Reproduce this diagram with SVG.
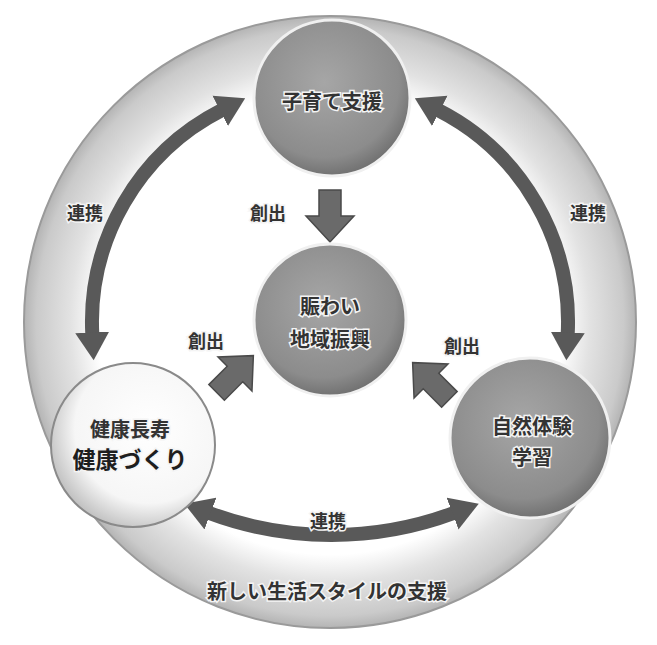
<svg xmlns="http://www.w3.org/2000/svg" width="657" height="645" viewBox="0 0 657 645">
  <style>
    .lbl { font-family: "Noto Sans CJK JP", "Noto Sans CJK SC", sans-serif; font-weight: 700; text-anchor: middle; dominant-baseline: central; fill: #333333; stroke: #f4f4f4; stroke-width: 3; paint-order: stroke; }
    .big { font-size: 20px; }
    .sm { font-size: 18px; }
    .arc { fill: none; stroke: #595959; stroke-width: 14; }
    .sarrow { fill: #6a6a6a; stroke: #4a4a4a; stroke-width: 1.5; }
    .node { stroke: #f0f0f0; stroke-width: 3; }
  </style>
  <defs>
    <radialGradient id="ringG" cx="0.5" cy="0.5" r="0.5">
      <stop offset="0" stop-color="#ffffff"/>
      <stop offset="0.76" stop-color="#ffffff"/>
      <stop offset="0.85" stop-color="#e2e2e2"/>
      <stop offset="0.96" stop-color="#cacaca"/>
      <stop offset="1" stop-color="#b4b4b4"/>
    </radialGradient>
    <radialGradient id="grayG" cx="0.45" cy="0.4" r="0.6">
      <stop offset="0" stop-color="#a6a6a6"/>
      <stop offset="0.8" stop-color="#8c8c8c"/>
      <stop offset="1" stop-color="#727272"/>
    </radialGradient>
    <radialGradient id="whiteG" cx="0.6" cy="0.4" r="0.65">
      <stop offset="0" stop-color="#ffffff"/>
      <stop offset="0.7" stop-color="#f6f6f6"/>
      <stop offset="1" stop-color="#bdbdbd"/>
    </radialGradient>
    <marker id="head" viewBox="0 -18 30 36" refX="2" refY="0" markerWidth="30" markerHeight="36" markerUnits="userSpaceOnUse" orient="auto-start-reverse">
      <path d="M0,-17 L28,0 L0,17 Z" fill="#595959"/>
    </marker>
  </defs>

  <rect width="657" height="645" fill="#ffffff"/>

  <g id="outer-ring">
    <circle cx="330" cy="322" r="306" fill="url(#ringG)" stroke="#9a9a9a" stroke-width="2"/>
    <text class="lbl big" x="327" y="590">新しい生活スタイルの支援</text>
  </g>

  <g id="connectors">
    <path class="arc" d="M222,110 A238,238 0 0 0 92.3,334.4" marker-start="url(#head)" marker-end="url(#head)"/>
    <path class="arc" d="M438,110 A238,238 0 0 1 567.7,334.4" marker-start="url(#head)" marker-end="url(#head)"/>
    <path class="arc" d="M208.6,512.8 A351,351 0 0 0 454.4,512.8" marker-start="url(#head)" marker-end="url(#head)"/>
    <polygon class="sarrow" transform="translate(330,190) rotate(90)" points="0,-11 26,-11 26,-24 52,0 26,24 26,11 0,11"/>
    <polygon class="sarrow" transform="translate(216.6,392.4) rotate(-45)" points="0,-11 26,-11 26,-24 52,0 26,24 26,11 0,11"/>
    <polygon class="sarrow" transform="translate(449.4,399.4) rotate(-135)" points="0,-11 26,-11 26,-24 52,0 26,24 26,11 0,11"/>
    <text class="lbl sm" x="85" y="212">連携</text>
    <text class="lbl sm" x="588" y="212">連携</text>
    <text class="lbl sm" x="328" y="520">連携</text>
    <text class="lbl sm" x="268" y="212">創出</text>
    <text class="lbl sm" x="206" y="340">創出</text>
    <text class="lbl sm" x="462" y="345">創出</text>
  </g>

  <g id="node-kosodate">
    <circle class="node" cx="332" cy="98" r="78" fill="url(#grayG)"/>
    <text class="lbl big" x="332" y="100">子育て支援</text>
  </g>

  <g id="node-nigiwai">
    <circle class="node" cx="330" cy="320" r="76" fill="url(#grayG)"/>
    <text class="lbl big" x="330" y="305">賑わい</text>
    <text class="lbl big" x="330" y="338">地域振興</text>
  </g>

  <g id="node-kenko">
    <circle cx="133" cy="445" r="82" fill="url(#whiteG)" stroke="#8a8a8a" stroke-width="2"/>
    <text class="lbl big" x="130" y="428">健康長寿</text>
    <text class="lbl" style="font-size:23px; fill:#1e1e1e;" x="130" y="458">健康づくり</text>
  </g>

  <g id="node-shizen">
    <circle class="node" cx="530" cy="438" r="80" fill="url(#grayG)"/>
    <text class="lbl big" x="532" y="425">自然体験</text>
    <text class="lbl big" x="532" y="456">学習</text>
  </g>
</svg>
